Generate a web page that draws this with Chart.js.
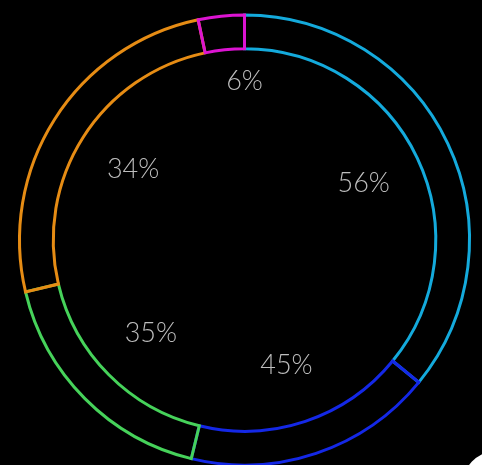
<!DOCTYPE html>
<html>
<head>
<meta charset="utf-8">
<script src="https://cdn.jsdelivr.net/npm/chart.js@4"></script>
<style>
  html, body { margin: 0; padding: 0; background: #000; overflow: hidden; }
  #wrap { position: relative; width: 482px; height: 480px; }
</style>
</head>
<body>
<div id="wrap"><canvas id="c"></canvas></div>
<script>
const segments = ['Cyan', 'Blue', 'Green', 'Orange', 'Magenta'];
const shares = [35.9, 17.9, 17.5, 25.4, 3.3];
// Printed labels
const pctLabels = ['56%', '45%', '35%', '34%', '6%'];
const colors = ['#14aadc', '#1428e6', '#46d25a', '#e68c14', '#dc14d2'];

const labelPlugin = {
  id: 'pctLabels',
  afterDatasetsDraw(chart) {
    const ctx = chart.ctx;
    const meta = chart.getDatasetMeta(0);
    ctx.save();
    ctx.font = '300 27px Lato, "Open Sans", sans-serif';
    ctx.fillStyle = '#bdbdbd';
    ctx.textAlign = 'center';
    ctx.textBaseline = 'middle';
    meta.data.forEach((arc, i) => {
      const p = arc.getProps(['startAngle', 'endAngle', 'x', 'y', 'innerRadius'], true);
      const span = p.endAngle - p.startAngle;
      let a, r;
      if (span < 0.3) { a = p.endAngle; r = p.innerRadius * 0.83; }
      else { a = (p.startAngle + p.endAngle) / 2; r = p.innerRadius * 0.69; }
      ctx.fillText(pctLabels[i], p.x + Math.cos(a) * r, p.y + Math.sin(a) * r);
    });
    ctx.restore();
  },
  afterDraw(chart) {
    const ctx = chart.ctx;
    ctx.save();
    ctx.fillStyle = '#ffffff';
    ctx.beginPath();
    ctx.arc(500, 490, 40, 0, Math.PI * 2);
    ctx.fill();
    ctx.restore();
  }
};

new Chart(document.getElementById('c'), {
  type: 'doughnut',
  data: {
    labels: segments,
    datasets: [{
      data: shares,
      backgroundColor: 'rgba(0,0,0,0)',
      borderColor: colors,
      borderWidth: 3,
      borderJoinStyle: 'miter',
      hoverOffset: 0
    }]
  },
  options: {
    responsive: true,
    maintainAspectRatio: false,
    animation: false,
    cutout: '85%',
    layout: { padding: { top: 13.5, bottom: 13.5, left: 18, right: 11 } },
    plugins: { legend: { display: false }, tooltip: { enabled: false } },
    events: []
  },
  plugins: [labelPlugin]
});
</script>
</body>
</html>
